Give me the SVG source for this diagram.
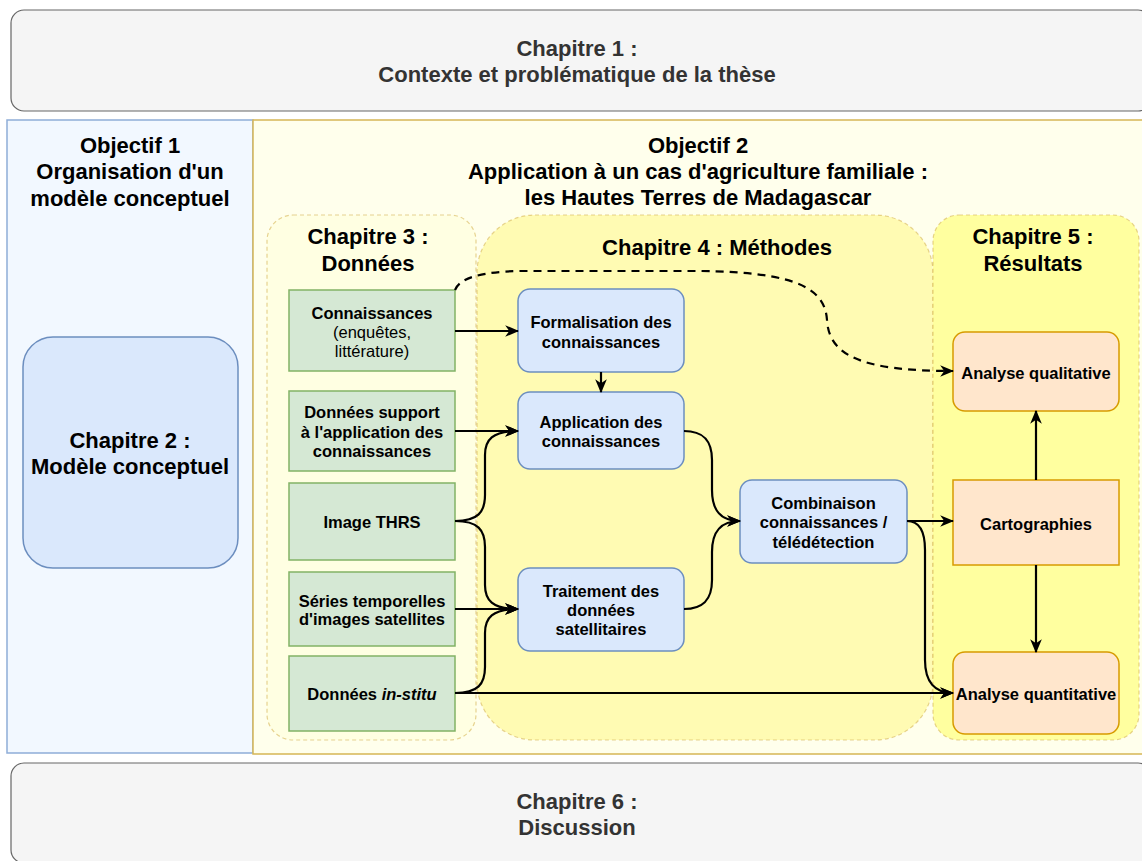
<svg xmlns="http://www.w3.org/2000/svg" width="1142" height="861" viewBox="0 0 1142 861">
<defs>
<style>
text{font-family:"Liberation Sans",Arial,Helvetica,sans-serif;font-weight:bold;text-anchor:middle;fill:#000}
.t{font-size:22px}
.g{fill:#333333}
.n{font-size:16.5px}
.nw{font-weight:normal}
.frame{fill:#f5f5f5;stroke:#666666;stroke-width:1.2}
.cont{stroke:#d6b656;stroke-opacity:0.6;stroke-width:1.2;stroke-dasharray:4 3}
.green{fill:#d5e8d4;stroke:#82b366;stroke-width:1.5}
.blue{fill:#dae8fc;stroke:#6c8ebf;stroke-width:1.5}
.orange{fill:#ffe6cc;stroke:#d79b00;stroke-width:1.5}
.edge{fill:none;stroke:#000;stroke-width:2.2;marker-end:url(#arr)}
.dash{stroke-dasharray:8 6}
</style>
<marker id="arr" viewBox="0 0 12 10" refX="11" refY="5" markerWidth="14" markerHeight="12" markerUnits="userSpaceOnUse" orient="auto">
<path d="M0,0 L12,5 L0,10 L3.5,5 z" fill="#000"/>
</marker>
</defs>

<g id="chapitre1">
<rect class="frame" x="11" y="10" width="1140" height="101" rx="13"/>
<text class="t g" x="577" y="56">Chapitre 1 :</text>
<text class="t g" x="577" y="82">Contexte et problématique de la thèse</text>
</g>

<g id="objectif1">
<rect x="7" y="120" width="246" height="633" fill="#f2f8ff" stroke="#8eadd8" stroke-width="1.5"/>
<text class="t" x="130" y="153">Objectif 1</text>
<text class="t" x="130" y="179">Organisation d'un</text>
<text class="t" x="130" y="206">modèle conceptuel</text>
</g>

<g id="objectif2">
<rect x="253" y="120" width="895" height="634" fill="#ffffec" stroke="#d6b656" stroke-width="1.5"/>
<text class="t" x="698" y="153">Objectif 2</text>
<text class="t" x="698" y="179">Application à un cas d'agriculture familiale :</text>
<text class="t" x="698" y="205">les Hautes Terres de Madagascar</text>
</g>

<g id="chapitre2">
<rect class="blue" x="23" y="337" width="215" height="231" rx="30"/>
<text class="t" x="130" y="448">Chapitre 2 :</text>
<text class="t" x="130" y="474">Modèle conceptuel</text>
</g>

<g id="chapitre3">
<rect class="cont" x="267" y="215" width="209" height="525" rx="26" fill="#ffffe2"/>
<text class="t" x="368" y="244">Chapitre 3 :</text>
<text class="t" x="368" y="271">Données</text>
</g>

<g id="chapitre4">
<rect class="cont" x="477" y="215" width="456" height="525" rx="58" fill="#fffbb3"/>
<text class="t" x="717" y="255">Chapitre 4 : Méthodes</text>
</g>

<g id="chapitre5">
<rect class="cont" x="933" y="215" width="206" height="525" rx="26" fill="#ffff9f"/>
<text class="t" x="1033" y="244">Chapitre 5 :</text>
<text class="t" x="1033" y="271">Résultats</text>
</g>

<g id="connaissances">
<rect class="green" x="289" y="290" width="166" height="81"/>
<text class="n" x="372" y="319">Connaissances</text>
<text class="n nw" x="372" y="338">(enquêtes,</text>
<text class="n nw" x="372" y="357">littérature)</text>
</g>
<g id="donnees-support">
<rect class="green" x="289" y="391" width="166" height="80"/>
<text class="n" x="372" y="418">Données support</text>
<text class="n" x="372" y="438">à l'application des</text>
<text class="n" x="372" y="457">connaissances</text>
</g>
<g id="image-thrs">
<rect class="green" x="289" y="483" width="166" height="77"/>
<text class="n" x="372" y="528">Image THRS</text>
</g>
<g id="series">
<rect class="green" x="289" y="572" width="166" height="74"/>
<text class="n" x="372" y="607">Séries temporelles</text>
<text class="n" x="372" y="625">d'images satellites</text>
</g>
<g id="in-situ">
<rect class="green" x="289" y="656" width="166" height="75"/>
<text class="n" x="372" y="700">Données <tspan font-style="italic">in-stitu</tspan></text>
</g>

<g id="formalisation">
<rect class="blue" x="518" y="289" width="166" height="83" rx="12"/>
<text class="n" x="601" y="328">Formalisation des</text>
<text class="n" x="601" y="348">connaissances</text>
</g>
<g id="application">
<rect class="blue" x="518" y="392" width="166" height="77" rx="12"/>
<text class="n" x="601" y="428">Application des</text>
<text class="n" x="601" y="447">connaissances</text>
</g>
<g id="traitement">
<rect class="blue" x="518" y="568" width="166" height="83" rx="12"/>
<text class="n" x="601" y="597">Traitement des</text>
<text class="n" x="601" y="616">données</text>
<text class="n" x="601" y="635">satellitaires</text>
</g>
<g id="combinaison">
<rect class="blue" x="740" y="480" width="167" height="83" rx="12"/>
<text class="n" x="823.5" y="509">Combinaison</text>
<text class="n" x="823.5" y="528">connaissances /</text>
<text class="n" x="823.5" y="548">télédétection</text>
</g>

<g id="analyse-qualitative">
<rect class="orange" x="953" y="332" width="166" height="79" rx="12"/>
<text class="n" x="1036" y="379">Analyse qualitative</text>
</g>
<g id="cartographies">
<rect class="orange" x="953" y="480" width="166" height="85"/>
<text class="n" x="1036" y="530">Cartographies</text>
</g>
<g id="analyse-quantitative">
<rect class="orange" x="953" y="652" width="166" height="82" rx="12"/>
<text class="n" x="1036" y="700">Analyse quantitative</text>
</g>

<g id="connectors">
<path class="edge" d="M455,331 L518,331"/>
<path class="edge" d="M601,372 L601,392"/>
<path class="edge" d="M455,431 L518,431"/>
<path class="edge" d="M455,521 C478,521 485,512 485,495 L485,455 C485,440 492,431 518,431"/>
<path class="edge" d="M455,521 C478,521 485,530 485,547 L485,585 C485,600 492,609 518,609"/>
<path class="edge" d="M455,609 L518,609"/>
<path class="edge" d="M455,693 C478,693 485,684 485,667 L485,633 C485,618 492,609 518,609"/>
<path class="edge" d="M455,693 L953,693"/>
<path class="edge" d="M684,431 C703,431 712,440 712,460 L712,490 C712,510 720,521 740,521"/>
<path class="edge" d="M684,609 C703,609 712,600 712,580 L712,552 C712,532 720,521 740,521"/>
<path class="edge" d="M907,521 L953,521"/>
<path class="edge" d="M907,521 C918,521 925,530 925,550 L925,660 C925,682 935,693 953,693"/>
<path class="edge" d="M1036,480 L1036,411"/>
<path class="edge" d="M1036,565 L1036,652"/>
<path class="edge dash" d="M455,290 Q462,272 520,271 L700,271 C800,272 825,290 827,320 C829,355 860,371 953,371"/>
</g>

<g id="chapitre6">
<rect class="frame" x="11" y="763" width="1140" height="100" rx="13"/>
<text class="t g" x="577" y="809">Chapitre 6 :</text>
<text class="t g" x="577" y="835">Discussion</text>
</g>
</svg>
